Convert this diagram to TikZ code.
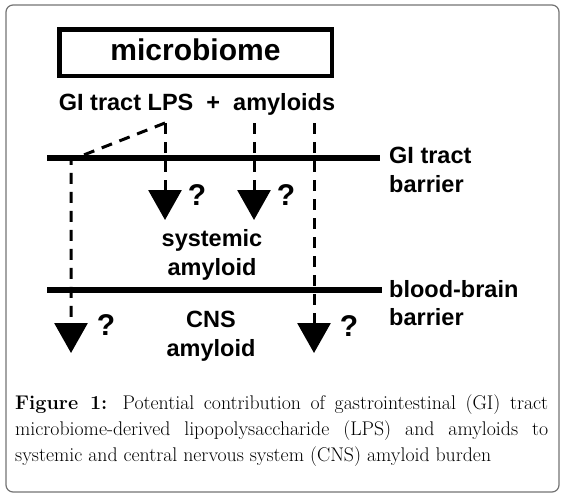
\documentclass[tikz,border=0pt]{standalone}
\usepackage{fontspec}
\newfontfamily\dfont{Liberation Sans}
\usetikzlibrary{arrows.meta}
\begin{document}
\begin{tikzpicture}[x=1pt,y=-1pt,
  lbl/.style={font=\dfont\bfseries\fontsize{23.5}{29}\selectfont, inner sep=0},
  qm/.style={font=\dfont\bfseries\fontsize{30}{30}\selectfont, inner sep=0},
  captxt/.style={font=\fontsize{19.8}{24}\selectfont, inner sep=0, anchor=base west},
  bar/.style={line width=6.5},
  conn/.style={line width=3, dash pattern=on 11pt off 8pt},
  tipd/.style={-{Triangle[length=30pt,width=33pt]}},
]
\useasboundingbox (0,0) rectangle (566,498);
\draw[draw=black!55, line width=1.2, rounded corners=7] (6,5) rectangle (559,492);

\node[draw, line width=4.5, minimum width=272.5, minimum height=46.5, inner sep=0,
  font=\dfont\bfseries\fontsize{30}{30}\selectfont, text height=20, text depth=5]
  (micro) at (195.5,52.5) {microbiome};
\node[lbl, anchor=base] (src) at (197,110) {GI tract LPS\ \ +\ \ amyloids};

\coordinate (lpsT) at (165,123);
\coordinate (amyT) at (254,123);
\coordinate (amyR) at (314,123);
\coordinate (lpsE) at (165,220);
\coordinate (amyE) at (254,220);
\coordinate (rE) at (314,353);
\coordinate (bend) at (71,160);
\coordinate (lE) at (71,353);
\coordinate (gL) at (47,158);
\coordinate (gR) at (380,158);
\coordinate (bL) at (47,290);
\coordinate (bR) at (382,290);

\draw[bar] (gL) -- (gR);
\draw[bar] (bL) -- (bR);

\draw[conn, tipd] (lpsT) -- (lpsE);
\draw[conn, tipd] (amyT) -- (amyE);
\draw[conn, tipd] (amyR) -- (rE);
\draw[conn, tipd] (lpsT) -- (bend) -- (lE);

\node[qm] (q1) at (197,195) {?};
\node[qm] (q2) at (286,195) {?};
\node[qm] (q3) at (106,325) {?};
\node[qm] (q4) at (349,326) {?};

\node[lbl, anchor=base west] (gi1) at (389,163) {GI tract};
\node[lbl, anchor=base west] (gi2) at (389,192) {barrier};
\node[lbl, anchor=base west] (bb1) at (389,297) {blood-brain};
\node[lbl, anchor=base west] (bb2) at (389,325) {barrier};
\node[lbl, anchor=base] (sys1) at (212,246) {systemic};
\node[lbl, anchor=base] (sys2) at (212,275) {amyloid};
\node[lbl, anchor=base] (cns1) at (211,327) {CNS};
\node[lbl, anchor=base] (cns2) at (211,356) {amyloid};

\node[captxt] (c1) at (15,409) {\makebox[533pt][s]{\textbf{Figure 1:} Potential contribution of gastrointestinal (GI) tract}};
\node[captxt] (c2) at (15,435) {\makebox[533pt][s]{microbiome-derived lipopolysaccharide (LPS) and amyloids to}};
\node[captxt] (c3) at (15,461) {systemic and central nervous system (CNS) amyloid burden};
\end{tikzpicture}
\end{document}
